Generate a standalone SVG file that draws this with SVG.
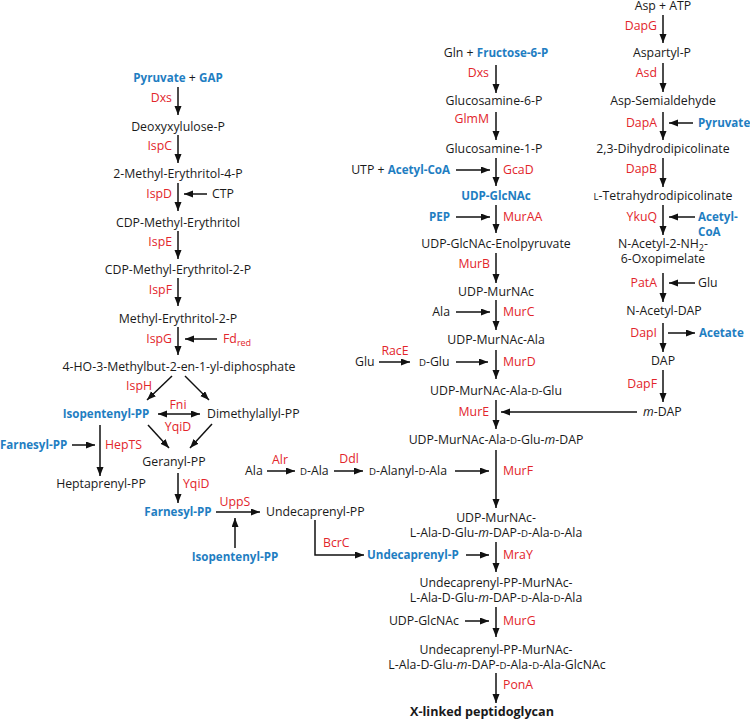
<svg xmlns="http://www.w3.org/2000/svg" width="750" height="722" viewBox="0 0 750 722">
<defs>
<marker id="ah" markerUnits="userSpaceOnUse" markerWidth="10" markerHeight="8" refX="9" refY="3.5" orient="auto-start-reverse">
<path d="M0,0 L9,3.5 L0,7 z" fill="#111"/>
</marker>
<style>
text{font-family:"Open Sans","Liberation Sans",sans-serif;font-size:12.3px;fill:#1a1a1a}
.m{text-anchor:middle}
.e{text-anchor:end}
.r{fill:#e2252b}
.b{fill:#1f7ec2;font-weight:bold;font-size:11.6px}
.k{font-weight:bold;font-size:12.6px}
.sc{font-size:9.6px}
.i{font-style:italic}
.sub{font-size:9px}
#conn line,#conn path{stroke:#111;stroke-width:1.5;fill:none;marker-end:url(#ah)}
</style>
</defs>
<rect width="750" height="722" fill="#fff"/>
<g id="conn">
<line x1="178" y1="87" x2="178" y2="115"/>
<line x1="178" y1="135" x2="178" y2="163"/>
<line x1="178" y1="183" x2="178" y2="211"/>
<line x1="207" y1="194" x2="184" y2="194"/>
<line x1="178" y1="231" x2="178" y2="259"/>
<line x1="178" y1="278" x2="178" y2="306"/>
<line x1="178" y1="327" x2="178" y2="355"/>
<line x1="217" y1="339" x2="185" y2="339"/>
<line x1="172" y1="376" x2="147" y2="400"/>
<line x1="185" y1="376" x2="209" y2="400"/>
<line x1="158" y1="414" x2="200" y2="414" style="marker-start:url(#ah)"/>
<line x1="148" y1="425" x2="169" y2="448"/>
<line x1="212" y1="424" x2="190" y2="448"/>
<line x1="72" y1="445" x2="95" y2="445"/>
<line x1="100" y1="425" x2="100" y2="476"/>
<line x1="178" y1="473" x2="178" y2="503"/>
<line x1="216" y1="512" x2="260" y2="512"/>
<line x1="235" y1="548" x2="235" y2="518"/>
<path d="M315,520 V555 H364"/>
<line x1="267" y1="471" x2="295" y2="471"/>
<line x1="334" y1="471" x2="363" y2="471"/>
<line x1="455" y1="471" x2="489" y2="471"/>
<line x1="496" y1="65" x2="496" y2="93"/>
<line x1="496" y1="112" x2="496" y2="140"/>
<line x1="496" y1="158" x2="496" y2="186"/>
<line x1="456" y1="170" x2="490" y2="170"/>
<line x1="496" y1="205" x2="496" y2="233"/>
<line x1="456" y1="217" x2="490" y2="217"/>
<line x1="496" y1="253" x2="496" y2="283"/>
<line x1="496" y1="300" x2="496" y2="330"/>
<line x1="456" y1="312" x2="490" y2="312"/>
<line x1="496" y1="350" x2="496" y2="379"/>
<line x1="379" y1="362" x2="410" y2="362"/>
<line x1="456" y1="362" x2="488" y2="362"/>
<line x1="496" y1="400" x2="496" y2="429"/>
<line x1="637" y1="412" x2="501" y2="412"/>
<line x1="496" y1="450" x2="496" y2="508"/>
<line x1="496" y1="542" x2="496" y2="572"/>
<line x1="466" y1="555" x2="489" y2="555"/>
<line x1="496" y1="607" x2="496" y2="637"/>
<line x1="465" y1="621" x2="489" y2="621"/>
<line x1="496" y1="673" x2="496" y2="703"/>
<line x1="663" y1="15" x2="663" y2="43"/>
<line x1="663" y1="63" x2="663" y2="92"/>
<line x1="663" y1="112" x2="663" y2="140"/>
<line x1="693" y1="123" x2="669" y2="123"/>
<line x1="663" y1="158" x2="663" y2="187"/>
<line x1="663" y1="205" x2="663" y2="235"/>
<line x1="695" y1="217" x2="669" y2="217"/>
<line x1="663" y1="273" x2="663" y2="302"/>
<line x1="695" y1="283" x2="669" y2="283"/>
<line x1="663" y1="323" x2="663" y2="352"/>
<line x1="668" y1="333" x2="695" y2="333"/>
<line x1="663" y1="370" x2="663" y2="402"/>
</g>

<g id="pyr-gap"><text class="m" x="178" y="82"><tspan class="b">Pyruvate</tspan> + <tspan class="b">GAP</tspan></text></g>
<g id="dxs1"><text class="e r" x="172" y="102">Dxs</text></g>
<g id="dxp"><text class="m" x="178" y="131">Deoxyxylulose-P</text></g>
<g id="ispc"><text class="e r" x="172" y="150">IspC</text></g>
<g id="mep"><text class="m" x="178" y="178">2-Methyl-Erythritol-4-P</text></g>
<g id="ispd"><text class="e r" x="172" y="198">IspD</text></g>
<g id="ctp"><text x="212" y="198">CTP</text></g>
<g id="cdpme"><text class="m" x="178" y="227">CDP-Methyl-Erythritol</text></g>
<g id="ispe"><text class="e r" x="172" y="246">IspE</text></g>
<g id="cdpmep"><text class="m" x="178" y="274">CDP-Methyl-Erythritol-2-P</text></g>
<g id="ispf"><text class="e r" x="172" y="294">IspF</text></g>
<g id="mecpp"><text class="m" x="178" y="323">Methyl-Erythritol-2-P</text></g>
<g id="ispg"><text class="e r" x="172" y="343">IspG</text></g>
<g id="fdred"><text class="r" x="223" y="343">Fd<tspan class="sub r" dy="3">red</tspan></text></g>
<g id="hmbpp"><text class="m" x="179" y="371">4-HO-3-Methylbut-2-en-1-yl-diphosphate</text></g>
<g id="isph"><text class="e r" x="152" y="390">IspH</text></g>
<g id="ipp1"><text class="m b" x="106" y="418">Isopentenyl-PP</text></g>
<g id="fni"><text class="m r" x="178" y="409">Fni</text></g>
<g id="dmapp"><text x="207" y="418">Dimethylallyl-PP</text></g>
<g id="yqid1"><text class="m r" x="178" y="431">YqiD</text></g>
<g id="fpp1"><text class="b" x="0" y="449">Farnesyl-PP</text></g>
<g id="hepts"><text class="r" x="105" y="449">HepTS</text></g>
<g id="gpp"><text class="m" x="174" y="466">Geranyl-PP</text></g>
<g id="hepp"><text class="m" x="101" y="488">Heptaprenyl-PP</text></g>
<g id="yqid2"><text class="r" x="183" y="488">YqiD</text></g>
<g id="fpp2"><text class="m b" x="178" y="516">Farnesyl-PP</text></g>
<g id="upps"><text class="m r" x="235" y="506">UppS</text></g>
<g id="undpp"><text x="266" y="516">Undecaprenyl-PP</text></g>
<g id="ipp2"><text class="m b" x="235" y="561">Isopentenyl-PP</text></g>
<g id="bcrc"><text class="r" x="323" y="547">BcrC</text></g>
<g id="undp"><text class="b" x="367" y="559">Undecaprenyl-P</text></g>

<g id="ala1"><text x="245" y="475">Ala</text></g>
<g id="alr"><text class="m r" x="280" y="464">Alr</text></g>
<g id="dala"><text x="300" y="475"><tspan class="sc">D</tspan>-Ala</text></g>
<g id="ddl"><text class="m r" x="349" y="463">Ddl</text></g>
<g id="daladala"><text x="369" y="475"><tspan class="sc">D</tspan>-Alanyl-<tspan class="sc">D</tspan>-Ala</text></g>

<g id="gln-f6p"><text class="m" x="496" y="57">Gln + <tspan class="b">Fructose-6-P</tspan></text></g>
<g id="dxs2"><text class="e r" x="489" y="77">Dxs</text></g>
<g id="glcn6p"><text class="m" x="494" y="105">Glucosamine-6-P</text></g>
<g id="glmm"><text class="e r" x="489" y="123">GlmM</text></g>
<g id="glcn1p"><text class="m" x="494" y="153">Glucosamine-1-P</text></g>
<g id="utp-acoa"><text class="e" x="450" y="174">UTP + <tspan class="b">Acetyl-CoA</tspan></text></g>
<g id="gcad"><text class="r" x="503" y="174">GcaD</text></g>
<g id="udpglcnac"><text class="m b" x="496" y="200">UDP-GlcNAc</text></g>
<g id="pep"><text class="e b" x="450" y="221">PEP</text></g>
<g id="muraa"><text class="r" x="503" y="221">MurAA</text></g>
<g id="enolpyr"><text class="m" x="496" y="248">UDP-GlcNAc-Enolpyruvate</text></g>
<g id="murb"><text class="e r" x="490" y="268">MurB</text></g>
<g id="udpmurnac"><text class="m" x="496" y="296">UDP-MurNAc</text></g>
<g id="ala2"><text class="e" x="450" y="316">Ala</text></g>
<g id="murc"><text class="r" x="503" y="316">MurC</text></g>
<g id="murnac-ala"><text class="m" x="496" y="344">UDP-MurNAc-Ala</text></g>
<g id="glu1"><text x="355" y="366">Glu</text></g>
<g id="race"><text class="m r" x="395" y="355">RacE</text></g>
<g id="dglu"><text x="419" y="366"><tspan class="sc">D</tspan>-Glu</text></g>
<g id="murd"><text class="r" x="503" y="366">MurD</text></g>
<g id="murnac-ala-glu"><text class="m" x="496" y="395">UDP-MurNAc-Ala-<tspan class="sc">D</tspan>-Glu</text></g>
<g id="mure"><text class="e r" x="489" y="416">MurE</text></g>
<g id="murnac-tri"><text class="m" x="496" y="444">UDP-MurNAc-Ala-<tspan class="sc">D</tspan>-Glu-<tspan class="i">m</tspan>-DAP</text></g>
<g id="murf"><text class="r" x="503" y="475">MurF</text></g>
<g id="murnac-penta"><text class="m" x="496" y="522">UDP-MurNAc-</text><text class="m" x="496" y="537">L-Ala-D-Glu-<tspan class="i">m</tspan>-DAP-<tspan class="sc">D</tspan>-Ala-<tspan class="sc">D</tspan>-Ala</text></g>
<g id="mray"><text class="r" x="503" y="559">MraY</text></g>
<g id="lipid1"><text class="m" x="496" y="587">Undecaprenyl-PP-MurNAc-</text><text class="m" x="496" y="602">L-Ala-D-Glu-<tspan class="i">m</tspan>-DAP-<tspan class="sc">D</tspan>-Ala-<tspan class="sc">D</tspan>-Ala</text></g>
<g id="udpglcnac2"><text class="e" x="459" y="625">UDP-GlcNAc</text></g>
<g id="murg"><text class="r" x="503" y="625">MurG</text></g>
<g id="lipid2"><text class="m" x="496" y="654">Undecaprenyl-PP-MurNAc-</text><text class="m" x="497" y="669">L-Ala-D-Glu-<tspan class="i">m</tspan>-DAP-<tspan class="sc">D</tspan>-Ala-<tspan class="sc">D</tspan>-Ala-GlcNAc</text></g>
<g id="pona"><text class="r" x="503" y="689">PonA</text></g>
<g id="pg"><text class="m k" x="482" y="716">X-linked peptidoglycan</text></g>

<g id="asp-atp"><text class="m" x="663" y="10">Asp + ATP</text></g>
<g id="dapg"><text class="e r" x="657" y="30">DapG</text></g>
<g id="asp-p"><text class="m" x="662" y="57">Aspartyl-P</text></g>
<g id="asd"><text class="e r" x="657" y="77">Asd</text></g>
<g id="asa"><text class="m" x="663" y="105">Asp-Semialdehyde</text></g>
<g id="dapa"><text class="e r" x="657" y="127">DapA</text></g>
<g id="pyr2"><text class="b" x="698" y="127">Pyruvate</text></g>
<g id="dhdp"><text class="m" x="663" y="153">2,3-Dihydrodipicolinate</text></g>
<g id="dapb"><text class="e r" x="657" y="173">DapB</text></g>
<g id="thdp"><text class="m" x="663" y="200"><tspan class="sc">L</tspan>-Tetrahydrodipicolinate</text></g>
<g id="ykuq"><text class="e r" x="657" y="221">YkuQ</text></g>
<g id="acoa2"><text class="b" x="698" y="221">Acetyl-</text><text class="b" x="698" y="236">CoA</text></g>
<g id="nacetyl"><text class="m" x="663" y="248">N-Acetyl-2-NH<tspan class="sub" dy="3">2</tspan><tspan dy="-3">-</tspan></text><text class="m" x="663" y="263">6-Oxopimelate</text></g>
<g id="pata"><text class="e r" x="657" y="287">PatA</text></g>
<g id="glu2"><text x="698" y="287">Glu</text></g>
<g id="nacdap"><text class="m" x="664" y="315">N-Acetyl-DAP</text></g>
<g id="dapi"><text class="e r" x="657" y="337">DapI</text></g>
<g id="acetate"><text class="b" x="699" y="337">Acetate</text></g>
<g id="dap"><text class="m" x="663" y="365">DAP</text></g>
<g id="dapf"><text class="e r" x="657" y="388">DapF</text></g>
<g id="mdap"><text x="643" y="416"><tspan class="i">m</tspan>-DAP</text></g>
</svg>
